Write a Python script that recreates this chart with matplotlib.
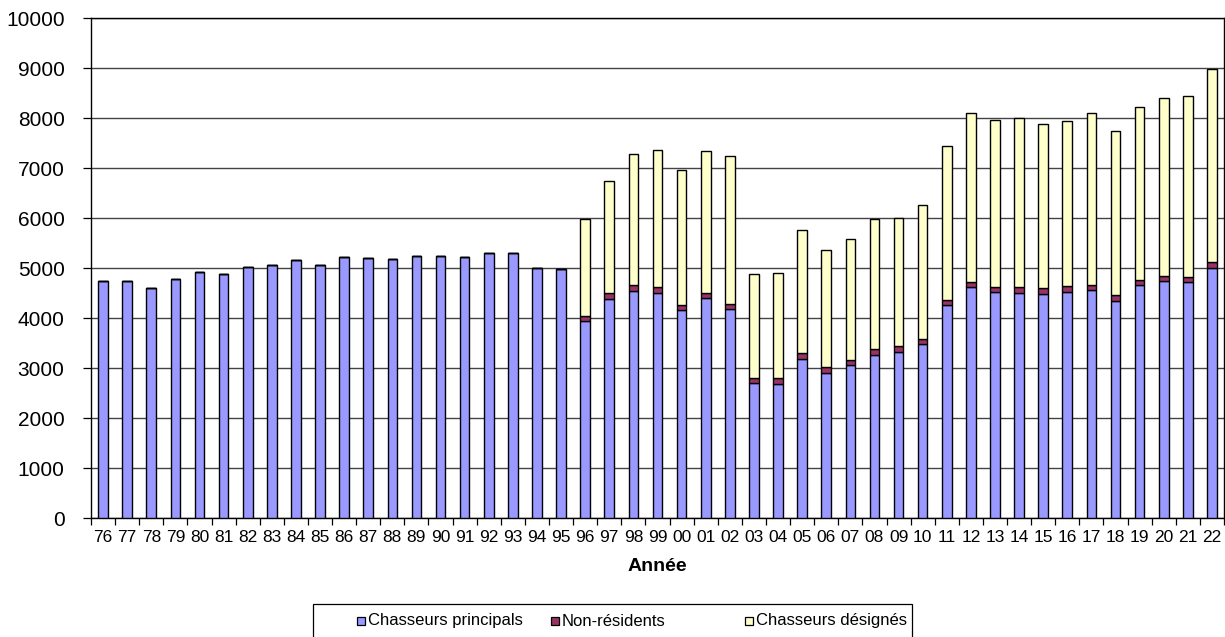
import matplotlib
matplotlib.use("Agg")
import matplotlib.pyplot as plt
from matplotlib.patches import Rectangle
import numpy as np

plt.rcParams['font.family'] = ['Liberation Sans', 'DejaVu Sans']

years = ["76", "77", "78", "79", "80", "81", "82", "83", "84", "85", "86", "87",
         "88", "89", "90", "91", "92", "93", "94", "95", "96", "97", "98", "99",
         "00", "01", "02", "03", "04", "05", "06", "07", "08", "09", "10", "11",
         "12", "13", "14", "15", "16", "17", "18", "19", "20", "21", "22"]

principal = [4750, 4750, 4600, 4790, 4930, 4890, 5030, 5060, 5170, 5060, 5220, 5210,
             5180, 5240, 5240, 5220, 5310, 5310, 5010, 4990, 3940, 4390, 4550, 4510,
             4160, 4400, 4180, 2710, 2690, 3190, 2910, 3060, 3270, 3330, 3480, 4260,
             4620, 4520, 4510, 4490, 4530, 4560, 4350, 4660, 4740, 4720, 5000]

non_residents = [0, 0, 0, 0, 0, 0, 0, 0, 0, 0, 0, 0,
                 0, 0, 0, 0, 0, 0, 0, 0, 110, 110, 115, 110,
                 105, 110, 105, 100, 105, 120, 105, 105, 115, 115, 105, 105,
                 105, 105, 110, 110, 110, 105, 105, 105, 105, 110, 115]

designated = [0, 0, 0, 0, 0, 0, 0, 0, 0, 0, 0, 0,
              0, 0, 0, 0, 0, 0, 0, 0, 1930, 2240, 2610, 2750,
              2690, 2840, 2950, 2070, 2110, 2450, 2350, 2410, 2590, 2560, 2670, 3080,
              3370, 3340, 3390, 3280, 3300, 3440, 3280, 3450, 3560, 3610, 3870]

series_names = ['Chasseurs principals', 'Non-résidents', 'Chasseurs désignés']
series_colors = ['#9999FF', '#993366', '#FFFFCC']

W, H = 1225, 637
fig = plt.figure(figsize=(W / 100, H / 100), dpi=100)
ax = fig.add_axes([91 / W, 1 - 518 / H, (1224 - 91) / W, (518 - 18) / H])

x = np.arange(len(years))
p = np.array(principal)
n = np.array(non_residents)
d = np.array(designated)
bw = 0.4
ax.bar(x, p, bw, color=series_colors[0], edgecolor='#000000', linewidth=1.0, zorder=3)
ax.bar(x, n, bw, bottom=p, color=series_colors[1], edgecolor='#000000', linewidth=1.0, zorder=3)
ax.bar(x, d, bw, bottom=p + n, color=series_colors[2], edgecolor='#000000', linewidth=1.0, zorder=3)

ax.set_xlim(-0.5, len(years) - 0.5)
ax.set_ylim(0, 10000)
ax.set_yticks(np.arange(0, 10001, 1000))
ax.tick_params(axis='y', labelsize=15, length=6, width=0.9, direction='out', pad=13)
ax.set_xticks(x)
ax.set_xticklabels(years, fontsize=12.5)
ax.tick_params(axis='x', which='major', length=0, pad=9)
ax.set_xticks(np.arange(-0.5, len(years), 1), minor=True)
ax.tick_params(axis='x', which='minor', length=5, width=0.9, direction='out')

ax.grid(axis='y', color='#444444', linewidth=1.0, zorder=0)
for s in ax.spines.values():
    s.set_linewidth(1.0)
    s.set_color('#000000')

ax.set_xlabel('Année', fontsize=14, fontweight='bold', labelpad=9)

# legend drawn with equal-width columns (as in the original)
lx0, lx1, ly0 = 313, 912, 604
fig.add_artist(Rectangle((lx0 / W, 1 - 645 / H), (lx1 - lx0) / W, (645 - ly0) / H,
                         transform=fig.transFigure, facecolor='white',
                         edgecolor='#000000', linewidth=0.9))
cy = 621
hx = [357, 551, 745]
sq = 8
for i in range(3):
    fig.add_artist(Rectangle((hx[i] / W, 1 - (cy + sq / 2) / H), sq / W, sq / H,
                             transform=fig.transFigure, facecolor=series_colors[i],
                             edgecolor='#000000', linewidth=0.9))
    fig.text((hx[i] + sq + 3) / W, 1 - cy / H, series_names[i], fontsize=12,
             ha='left', va='center')

fig.savefig('out.png', dpi=100)
